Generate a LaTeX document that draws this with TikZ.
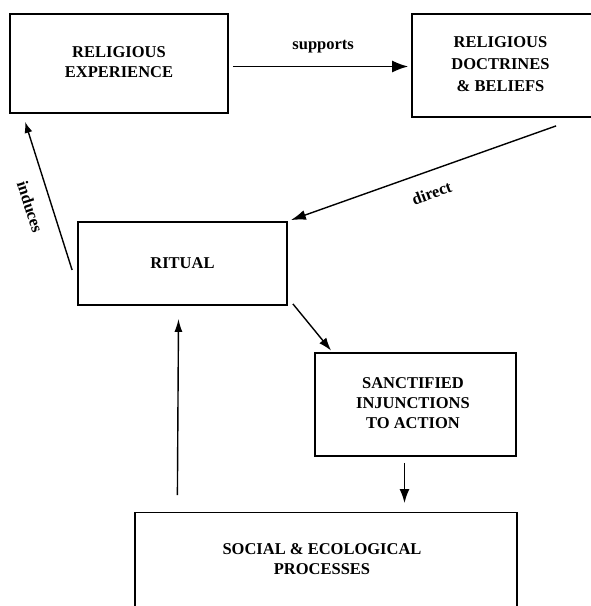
\documentclass[tikz,border=0pt]{standalone}
\usepackage{fontspec}
\setmainfont{Liberation Serif}
\usetikzlibrary{arrows.meta,calc}
\begin{document}
\begin{tikzpicture}[x=1pt,y=-1pt,
  txt/.style={font=\fontsize{16.5}{20}\selectfont\bfseries},
  box/.style={draw, line width=1.8pt, inner sep=0pt, txt},
  lab/.style={font=\fontsize{16.5}{20}\selectfont\bfseries},
  conn/.style={line width=1.4pt},
]
\useasboundingbox[fill=white] (0,0) rectangle (591,606);

% boxes
\node[box, minimum width=218pt, minimum height=99pt] (re) at (119,63.5)
  {\begin{tabular}{@{}c@{}}RELIGIOUS\\EXPERIENCE\end{tabular}};
\node[box, minimum width=188pt, minimum height=103pt] (rdb) at (506,65.5)
  {\renewcommand{\arraystretch}{1.1}\begin{tabular}{@{}c@{}}RELIGIOUS\\DOCTRINES\\\& BELIEFS\end{tabular}\hspace*{11pt}};
\node[box, minimum width=209pt, minimum height=83pt] (ritual) at (182.5,263.5)
  {RITUAL};
\node[box, minimum width=201pt, minimum height=103pt] (sia) at (415.5,404.5)
  {\raisebox{-3pt}{\begin{tabular}{@{}c@{}}SANCTIFIED\\INJUNCTIONS\\TO ACTION\end{tabular}}\hspace*{5pt}};
\node[box, anchor=north, minimum width=382pt, text height=42pt, text depth=100pt] (sep) at (326,511.5)
  {\begin{tabular}[t]{@{}c@{}}SOCIAL \& ECOLOGICAL\\PROCESSES\end{tabular}\hspace*{8pt}};

% connectors
\draw[conn, -{Latex[length=16pt,width=12pt]}]
  ([shift={(4,3)}]re.east) -- node[lab, pos=0.515, yshift=20pt] {supports}
  ([shift={(-3,1)}]rdb.west);
\draw[conn, -{Latex[length=15pt,width=10pt]}]
  ([shift={(145,8)}]rdb.south west) -- node[lab, pos=0.469, yshift=-23pt, rotate=20] {direct}
  ([shift={(3,-1)}]ritual.north east);
\draw[conn, -{Latex[length=11pt,width=8pt]}]
  ([shift={(-5,6.5)}]ritual.west) -- node[lab, pos=0.426, xshift=-22pt, rotate=-72.4] {induces}
  ([shift={(16,8)}]re.south west);
\draw[conn, -{Latex[length=13pt,width=9pt]}]
  ([shift={(5,-2)}]ritual.south east) -- ([shift={(17,-1.5)}]sia.north west);
\draw[conn, -{Latex[length=14pt,width=10pt]}]
  ([shift={(-11,6)}]sia.south) -- ([shift={(78.5,-8.5)}]sep.north);
\draw[conn, -{Latex[length=13pt,width=8pt]}]
  ([shift={(43.3,-16.5)}]sep.north west) -- ([shift={(-4,13)}]ritual.south);
\end{tikzpicture}
\end{document}
